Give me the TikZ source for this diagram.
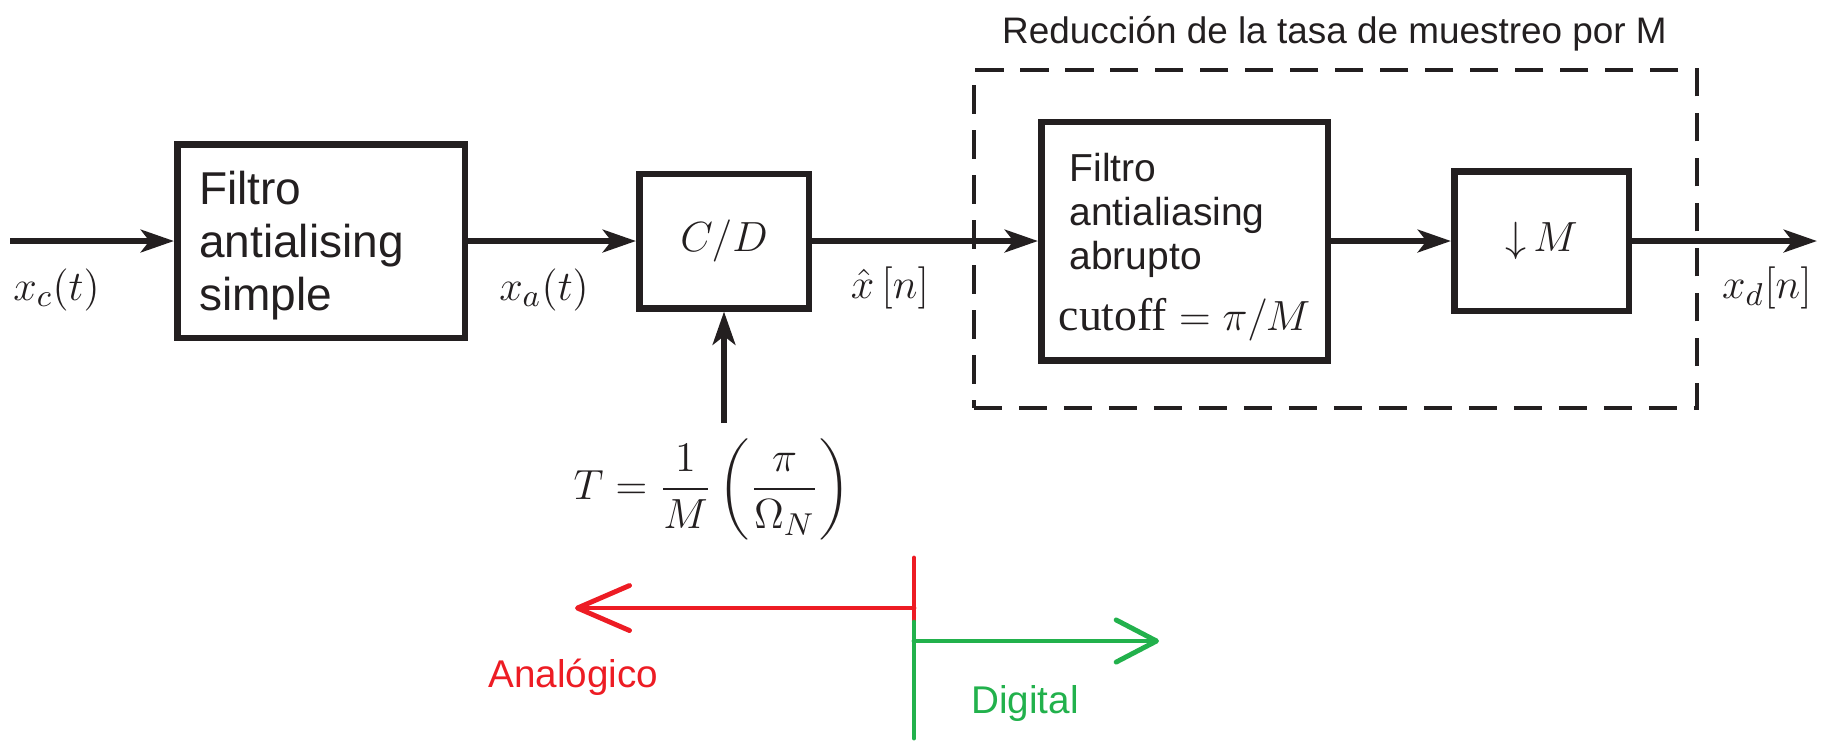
\documentclass[tikz,border=0pt]{standalone}
\usepackage{amsmath}
\usepackage[no-math]{fontspec}
\setmainfont{Liberation Sans}
\newfontfamily\tmsfont{Liberation Serif}
\definecolor{inkblk}{RGB}{35,31,32}
\definecolor{paintred}{RGB}{237,28,36}
\definecolor{paintgreen}{RGB}{34,177,76}
\usetikzlibrary{arrows.meta,positioning}

\begin{document}
\begin{tikzpicture}[
  color=inkblk,
  blk/.style={
    rectangle, draw=inkblk, line width=1.85pt,
    inner sep=0pt, align=left
  },
  sig/.style={-{Stealth[length=9.4pt, width=6.4pt, inset=2.4pt]}, line width=1.85pt, draw=inkblk},
  sym/.style={font=\fontsize{13}{16}\selectfont, anchor=base},
  divline/.style={line width=1.4pt, line cap=round},
  side/.style={font=\fontsize{11}{13}\selectfont, anchor=base}
]
\useasboundingbox (0,0) rectangle (18.45,-7.52);

% blocks
\node[blk, minimum width=2.875cm, minimum height=1.935cm, text width=2.44cm,
  font=\fontsize{13.1}{15.1}\selectfont] (pre) at (3.21,-2.41)
  {\rule{0pt}{0.42cm}Filtro\\antialising\\simple};
\node[blk, align=center, minimum width=1.695cm, minimum height=1.345cm,
  font=\fontsize{13}{16}\selectfont] (cd) at (7.24,-2.41) {$C/D$};
\node[draw=inkblk, line width=1.15pt, dash pattern=on 8pt off 4.8pt,
  minimum width=7.23cm, minimum height=3.38cm] (grp) at (13.355,-2.39) {};
\node[blk, minimum width=2.865cm, minimum height=2.385cm, text width=2.30cm,
  font=\fontsize{11.1}{12.5}\selectfont] (lpf) at (11.845,-2.41)
  {\rule{0pt}{0.40cm}Filtro\\antialiasing\\abrupto\\[0.17cm]\fontsize{13}{12.5}\selectfont\makebox[2.30cm]{{\tmsfont cutoff}$\;=\pi/M$}};
\node[blk, align=center, minimum width=1.745cm, minimum height=1.395cm,
  font=\fontsize{13}{16}\selectfont] (dec) at (15.415,-2.41) {$\mathord{\downarrow}\mkern3mu M$};
\node[font=\fontsize{10.5}{12}\selectfont, anchor=base] (ttl) at (13.345,-0.43)
  {Reducción de la tasa de muestreo por M};

% free ends
\coordinate (src) at (0.10,-2.41);
\coordinate (dst) at (18.17,-2.41);
\coordinate (clk) at (7.24,-4.23);

\draw[sig] (src) -- (pre);
\draw[sig] (pre) -- (cd);
\draw[sig] (cd) -- (lpf);
\draw[sig] (lpf) -- (dec);
\draw[sig] (dec) -- (dst);
\draw[sig] (clk) -- (cd);

% signal names
\node[sym] (xc) at (0.565,-3.00) {$x_c(t)$};
\node[sym] (xa) at (5.44,-3.00) {$x_a(t)$};
\node[sym] (xh) at (8.90,-2.98) {$\hat{x}\,[n]$};
\node[sym] (xd) at (17.67,-2.98) {$x_d[n]$};
\node[font=\fontsize{12.5}{15}\selectfont] (per) at (7.12,-4.89)
  {$T=\dfrac{1}{M}\left(\dfrac{\pi}{\Omega_N}\right)$};

% analog / digital split
\coordinate (cut) at (9.14,-5.58);
\coordinate (cutmid) at (9.14,-6.22);
\coordinate (cutend) at (9.14,-7.38);
\coordinate (analog) at (5.75,-6.08);
\coordinate (digit) at (11.59,-6.41);
\draw[divline, paintred] (cut) -- (cutmid);
\draw[divline, paintgreen] (cutmid) -- (cutend);
\draw[divline, paintred, -{Straight Barb[length=14.8pt, width=12.8pt, round]}] (cut |- analog) -- (analog);
\draw[divline, paintgreen, -{Straight Barb[length=11.5pt, width=12pt, round]}] (cut |- digit) -- (digit);
\node[side, text=paintred] (ana) at (5.735,-6.87) {Analógico};
\node[side, text=paintgreen] (dig) at (10.25,-7.13) {Digital};
\end{tikzpicture}
\end{document}
